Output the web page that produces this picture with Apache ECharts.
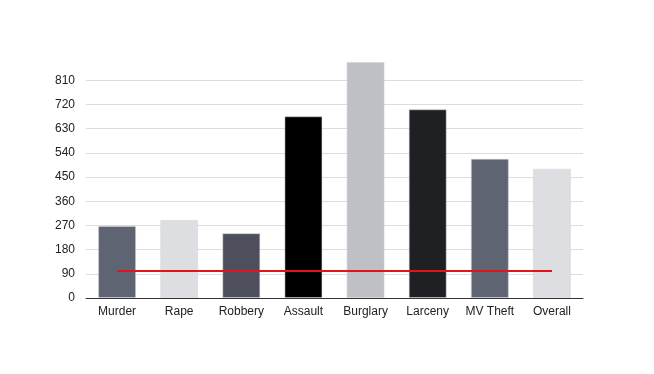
<!DOCTYPE html>
<html><head><meta charset="utf-8">
<script src="https://cdn.jsdelivr.net/npm/echarts@6/dist/echarts.min.js"></script>
<style>html,body{margin:0;padding:0;background:#fff}#c{width:654px;height:374px}</style>
</head><body><div id="c"></div>
<script>
const categories = ['Murder','Rape','Robbery','Assault','Burglary','Larceny','MV Theft','Overall'];
const barValues = [268, 290, 241, 676, 878, 702, 518, 481];
const lineValues = [100, 100, 100, 100, 100, 100, 100, 100];
const barColors = ['#5f6473','#dddee1','#4d505c','#000000','#bfc0c5','#1f2024','#5f6473','#dddee1'];

const chart = echarts.init(document.getElementById('c'));
chart.setOption({
  animation: false,
  grid: {left: 86, right: 71, top: 62, bottom: 76},
  xAxis: {
    type: 'category', data: categories,
    axisTick: {show: false},
    axisLine: {lineStyle: {color: '#333', width: 1}},
    axisLabel: {color: '#222', fontSize: 12, fontFamily: 'Liberation Sans', margin: 8, interval: 0}
  },
  yAxis: {
    type: 'value', min: 0, max: 878, interval: 90,
    axisLine: {show: false}, axisTick: {show: false},
    axisLabel: {color: '#222', fontSize: 12, fontFamily: 'Liberation Sans', margin: 11, showMaxLabel: false},
    splitLine: {lineStyle: {color: '#dcdcdc', width: 1}, showMaxLine: false}
  },
  series: [
    {
      type: 'bar', barWidth: 38,
      data: barValues.map((v, i) => ({value: v, itemStyle: {color: barColors[i]}})),
      itemStyle: {borderColor: 'rgba(210,210,215,0.5)', borderWidth: 1}
    },
    {
      type: 'line', data: lineValues, symbol: 'none', z: 5,
      lineStyle: {color: '#e3131b', width: 2}
    }
  ]
});
</script></body></html>
